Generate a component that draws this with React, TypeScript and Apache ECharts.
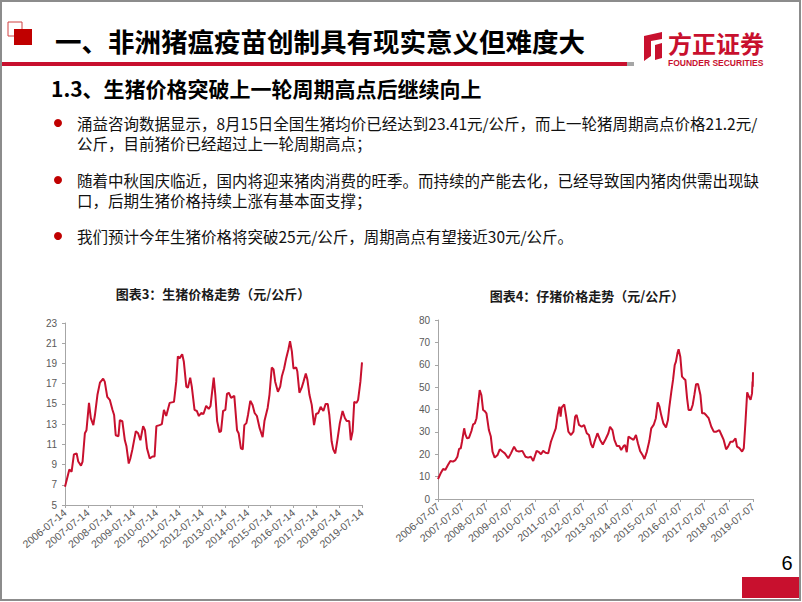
import React, { useEffect, useRef } from "react";
import * as echarts from "echarts";

// ---------- DATA ----------
const leftXLabels = [
  "2006-07-14", "2007-07-14", "2008-07-14", "2009-07-14", "2010-07-14",
  "2011-07-14", "2012-07-14", "2013-07-14", "2014-07-14", "2015-07-14",
  "2016-07-14", "2017-07-14", "2018-07-14", "2019-07-14",
];
const rightXLabels = [
  "2006-07-07", "2007-07-07", "2008-07-07", "2009-07-07", "2010-07-07",
  "2011-07-07", "2012-07-07", "2013-07-07", "2014-07-07", "2015-07-07",
  "2016-07-07", "2017-07-07", "2018-07-07", "2019-07-07",
];

// years since first label
const leftT = [
  0.0, 0.19, 0.29, 0.39, 0.51, 0.58, 0.7, 0.77, 0.87, 0.94, 1.05, 1.13, 1.24, 1.31,
  1.42, 1.53, 1.67, 1.74, 1.85, 1.96, 2.08, 2.15, 2.22, 2.34, 2.4, 2.51, 2.62, 2.69,
  2.79, 2.86, 2.95, 3.1, 3.2, 3.3, 3.42, 3.5, 3.59, 3.71, 3.83, 3.92, 4.0, 4.14,
  4.24, 4.33, 4.43, 4.58, 4.77, 4.87, 4.94, 5.01, 5.13, 5.2, 5.31, 5.38, 5.48, 5.55,
  5.67, 5.77, 5.86, 5.96, 6.06, 6.18, 6.29, 6.37, 6.51, 6.58, 6.66, 6.76, 6.83, 6.92,
  7.02, 7.09, 7.17, 7.27, 7.41, 7.53, 7.6, 7.7, 7.78, 7.85, 7.94, 8.01, 8.11, 8.21,
  8.3, 8.4, 8.52, 8.65, 8.73, 8.87, 8.95, 9.05, 9.13, 9.2, 9.32, 9.42, 9.49, 9.59,
  9.68, 9.78, 9.85, 9.93, 10.0, 10.12, 10.17, 10.26, 10.36, 10.44, 10.54, 10.61, 10.7,
  10.8, 10.9, 10.99, 11.09, 11.19, 11.31, 11.41, 11.5, 11.57, 11.67, 11.74, 11.83,
  11.92, 12.03, 12.15, 12.25, 12.33, 12.44, 12.51, 12.59, 12.66, 12.76, 12.83, 12.93, 13.0,
];
const leftV = [
  6.8, 8.5, 8.3, 10.0, 10.1, 9.3, 8.9, 9.3, 12.1, 12.4, 15.1, 13.6, 12.9, 13.9,
  15.9, 17.1, 17.5, 17.2, 15.7, 15.4, 14.4, 13.9, 11.9, 11.8, 13.4, 13.3, 11.4, 10.8,
  9.1, 9.6, 10.5, 12.3, 12.1, 11.4, 12.8, 12.4, 10.6, 9.6, 9.8, 9.8, 12.8, 12.9,
  13.0, 14.4, 13.8, 15.1, 15.2, 17.2, 19.7, 19.5, 19.9, 19.2, 16.7, 16.6, 17.6, 16.7,
  14.4, 14.3, 13.8, 14.1, 14.0, 14.8, 14.5, 14.8, 17.6, 15.9, 13.3, 12.2, 12.3, 14.3,
  14.4, 16.0, 16.1, 15.6, 15.8, 12.4, 12.1, 10.6, 10.5, 12.9, 13.1, 13.9, 15.3, 14.9,
  14.1, 13.8, 12.6, 11.7, 13.3, 14.6, 15.9, 18.6, 18.4, 17.2, 16.2, 16.7, 17.7, 18.5,
  19.5, 20.4, 21.2, 20.2, 18.5, 18.6, 18.2, 16.1, 16.6, 17.2, 18.0, 17.4, 15.9,
  14.9, 12.9, 14.0, 14.1, 14.7, 14.3, 15.0, 15.0, 13.9, 11.3, 10.5, 10.1,
  11.4, 13.1, 14.3, 13.6, 13.3, 13.3, 11.4, 12.3, 15.2, 15.1, 15.4, 17.2, 19.1,
];

const rightT = [
  0.0, 0.11, 0.21, 0.3, 0.41, 0.51, 0.62, 0.72, 0.8, 0.87, 0.94, 0.99, 1.08, 1.13,
  1.2, 1.28, 1.38, 1.45, 1.52, 1.59, 1.66, 1.72, 1.79, 1.86, 1.93, 2.0, 2.1, 2.18,
  2.25, 2.34, 2.46, 2.55, 2.66, 2.76, 2.9, 3.01, 3.14, 3.24, 3.34, 3.48, 3.61, 3.72,
  3.83, 3.93, 4.07, 4.17, 4.25, 4.34, 4.44, 4.55, 4.66, 4.76, 4.86, 4.94, 5.01, 5.06,
  5.1, 5.21, 5.28, 5.38, 5.49, 5.59, 5.66, 5.72, 5.82, 5.93, 6.03, 6.14, 6.23, 6.32,
  6.39, 6.46, 6.58, 6.69, 6.8, 6.92, 7.03, 7.1, 7.2, 7.28, 7.38, 7.48, 7.56, 7.66,
  7.72, 7.79, 7.86, 7.97, 8.07, 8.17, 8.25, 8.34, 8.44, 8.52, 8.62, 8.72, 8.8, 8.9,
  8.99, 9.07, 9.14, 9.21, 9.3, 9.41, 9.49, 9.54, 9.63, 9.7, 9.77, 9.82, 9.89, 9.93,
  10.0, 10.07, 10.14, 10.21, 10.28, 10.34, 10.44, 10.51, 10.58, 10.65, 10.73, 10.83,
  10.9, 10.99, 11.08, 11.17, 11.28, 11.38, 11.49, 11.61, 11.7, 11.79, 11.89, 11.97,
  12.07, 12.17, 12.28, 12.34, 12.44, 12.55, 12.62, 12.69, 12.76, 12.83, 12.9, 12.96,
  12.98, 12.99, 13.0,
];
const rightV = [
  8.9, 11.5, 13.4, 13.0, 15.2, 17.0, 16.7, 17.4, 18.9, 22.4, 22.7, 25.6, 31.6, 28.9,
  27.1, 27.4, 30.4, 33.4, 33.8, 36.1, 42.8, 48.7, 46.5, 39.8, 39.3, 38.3, 30.8, 27.9,
  21.2, 18.5, 19.7, 22.2, 21.2, 20.4, 18.2, 20.4, 23.4, 21.5, 21.2, 21.5, 18.9, 18.5,
  18.9, 17.0, 21.5, 20.9, 20.0, 21.5, 20.7, 20.4, 25.6, 28.6, 31.6, 37.6, 41.3, 36.8,
  40.8, 42.3, 37.6, 30.1, 28.6, 30.1, 36.8, 37.6, 33.1, 32.3, 33.1, 29.4, 28.6, 24.4,
  22.9, 25.6, 29.4, 26.4, 24.4, 26.8, 29.4, 32.3, 30.8, 26.4, 23.7, 23.7, 21.9, 23.7,
  24.1, 20.9, 27.9, 27.1, 26.4, 28.6, 24.9, 21.5, 19.7, 17.9, 21.2, 25.9, 31.6, 33.1,
  36.1, 43.2, 41.3, 37.6, 33.8, 32.0, 35.3, 40.5, 48.0, 53.2, 59.9, 61.4, 65.6, 66.9,
  63.6, 54.7, 53.9, 53.2, 45.0, 39.8, 39.8, 42.0, 46.5, 51.3, 51.4, 46.5,
  38.3, 38.3, 37.3, 36.1, 32.3, 30.1, 30.1, 30.8, 28.6, 26.4, 22.2, 23.4,
  25.6, 25.6, 27.1, 23.4, 22.7, 21.2, 22.7, 34.6, 47.7, 45.8, 44.3, 47.2,
  52.5, 50.2, 56.6,
];

const slideTitle = "一、非洲猪瘟疫苗创制具有现实意义但难度大";
const subTitle = "1.3、生猪价格突破上一轮周期高点后继续向上";
const bulletLines = [
  ["涌益咨询数据显示，8月15日全国生猪均价已经达到23.41元/公斤，而上一轮猪周期高点价格21.2元/", "公斤，目前猪价已经超过上一轮周期高点；"],
  ["随着中秋国庆临近，国内将迎来猪肉消费的旺季。而持续的产能去化，已经导致国内猪肉供需出现缺", "口，后期生猪价格持续上涨有基本面支撑；"],
  ["我们预计今年生猪价格将突破25元/公斤，周期高点有望接近30元/公斤。"],
];
const chartTitles = ["图表3：生猪价格走势（元/公斤）", "图表4：仔猪价格走势（元/公斤）"];
const pageNo = "6";

const RED = "#c8102e";
const CJK = "'Noto Sans CJK SC', 'Noto Sans', sans-serif";
const LAT = "'Liberation Sans', Arial, sans-serif";

export default function App() {
  const ref = useRef<HTMLDivElement>(null);

  useEffect(() => {
    if (!ref.current) return;
    const chart = echarts.init(ref.current, null, { renderer: "svg" });

    const axisCommon = {
      axisLine: { show: true, lineStyle: { color: "#a6a6a6", width: 1 } },
      axisTick: { show: true, length: 3, lineStyle: { color: "#a6a6a6" } },
      splitLine: { show: false },
    };

    const mkX = (gridIndex: number, labels: string[]) => ({
      type: "value",
      gridIndex,
      min: 0,
      max: labels.length - 1,
      interval: 1,
      ...axisCommon,
      axisLabel: {
        color: "#595959",
        fontSize: 10.5,
        fontFamily: LAT,
        rotate: 40,
        margin: 6,
        formatter: (v: number) => labels[Math.round(v)] ?? "",
      },
    });

    const mkY = (gridIndex: number, min: number, max: number, interval: number) => ({
      type: "value",
      gridIndex,
      min,
      max,
      interval,
      ...axisCommon,
      axisLabel: { color: "#595959", fontSize: 10, fontFamily: LAT, margin: 8 },
    });

    const bulletYs = [123, 180, 236];
    const textEls: any[] = [];
    bulletLines.forEach((lines, i) => {
      textEls.push({
        type: "circle",
        shape: { cx: 58, cy: bulletYs[i], r: 4 },
        style: { fill: "#c00000" },
      });
      lines.forEach((ln, j) => {
        textEls.push({
          type: "text",
          x: 77,
          y: bulletYs[i] + j * 20,
          style: {
            text: ln,
            fill: "#111111",
            fontSize: 15.5,
            fontFamily: CJK,
            verticalAlign: "middle",
          },
        });
      });
    });

    chart.setOption({
      animation: false,
      backgroundColor: "#ffffff",
      grid: [
        { left: 65, top: 323, width: 297, height: 182, containLabel: false },
        { left: 438, top: 320, width: 315, height: 179, containLabel: false },
      ],
      xAxis: [mkX(0, leftXLabels), mkX(1, rightXLabels)],
      yAxis: [mkY(0, 5, 23, 2), mkY(1, 0, 80, 10)],
      series: [
        {
          type: "line",
          xAxisIndex: 0,
          yAxisIndex: 0,
          data: leftT.map((t, i) => [t, leftV[i]]),
          showSymbol: false,
          lineStyle: { color: RED, width: 2 },
          itemStyle: { color: RED },
        },
        {
          type: "line",
          xAxisIndex: 1,
          yAxisIndex: 1,
          data: rightT.map((t, i) => [t, rightV[i]]),
          showSymbol: false,
          lineStyle: { color: RED, width: 2 },
          itemStyle: { color: RED },
        },
      ],
      graphic: [
        // slide frame
        {
          type: "rect",
          shape: { x: 1, y: 1, width: 799, height: 599 },
          style: { fill: "none", stroke: "#8c8c8c", lineWidth: 2 },
          silent: true,
        },
        // header squares
        {
          type: "rect",
          shape: { x: 8, y: 22, width: 14, height: 14 },
          style: { fill: "#ffffff", stroke: "#d04040", lineWidth: 1 },
        },
        {
          type: "rect",
          shape: { x: 14, y: 29, width: 18, height: 16 },
          style: { fill: "#c00000" },
        },
        {
          type: "text",
          x: 55,
          y: 40,
          style: {
            text: slideTitle,
            fill: "#000000",
            fontSize: 26.5,
            fontWeight: "bold",
            fontFamily: CJK,
            verticalAlign: "middle",
          },
        },
        // header rule
        { type: "rect", shape: { x: 2, y: 62, width: 625, height: 4 }, style: { fill: RED } },
        { type: "rect", shape: { x: 627, y: 62, width: 7, height: 4 }, style: { fill: "#a6a6a6" } },
        // logo icon
        {
          type: "polygon",
          shape: { points: [[644, 36], [662, 32], [662, 39], [651, 41], [651, 56], [644, 61]] },
          style: { fill: RED },
        },
        {
          type: "polygon",
          shape: { points: [[655, 45], [662, 43], [662, 58], [655, 60]] },
          style: { fill: RED },
        },
        {
          type: "text",
          x: 668,
          y: 42,
          style: {
            text: "方正证券",
            fill: RED,
            fontSize: 24,
            fontWeight: "bold",
            fontFamily: CJK,
            verticalAlign: "middle",
          },
        },
        {
          type: "text",
          x: 668,
          y: 63,
          style: {
            text: "FOUNDER SECURITIES",
            fill: RED,
            fontSize: 8.5,
            fontWeight: "bold",
            fontFamily: "'Liberation Sans Narrow', 'Liberation Sans', sans-serif",
            verticalAlign: "middle",
          },
        },
        // subtitle
        {
          type: "text",
          x: 51,
          y: 88,
          style: {
            text: subTitle,
            fill: "#000000",
            fontSize: 21,
            fontWeight: "bold",
            fontFamily: CJK,
            verticalAlign: "middle",
          },
        },
        ...textEls,
        // chart titles
        {
          type: "text",
          x: 213,
          y: 293,
          style: {
            text: chartTitles[0],
            fill: "#1a1a1a",
            fontSize: 13,
            fontWeight: "bold",
            fontFamily: CJK,
            align: "center",
            verticalAlign: "middle",
          },
        },
        {
          type: "text",
          x: 587,
          y: 295,
          style: {
            text: chartTitles[1],
            fill: "#1a1a1a",
            fontSize: 13,
            fontWeight: "bold",
            fontFamily: CJK,
            align: "center",
            verticalAlign: "middle",
          },
        },
        // page number & footer block
        {
          type: "text",
          x: 787,
          y: 563,
          style: {
            text: pageNo,
            fill: "#000000",
            fontSize: 20,
            fontFamily: LAT,
            align: "center",
            verticalAlign: "middle",
          },
        },
        { type: "rect", shape: { x: 742, y: 577, width: 57, height: 21 }, style: { fill: RED } },
      ],
    });

    return () => chart.dispose();
  }, []);

  return (
    <div
      ref={ref}
      style={{ position: "absolute", left: 0, top: 0, width: 802, height: 602 }}
    />
  );
}
